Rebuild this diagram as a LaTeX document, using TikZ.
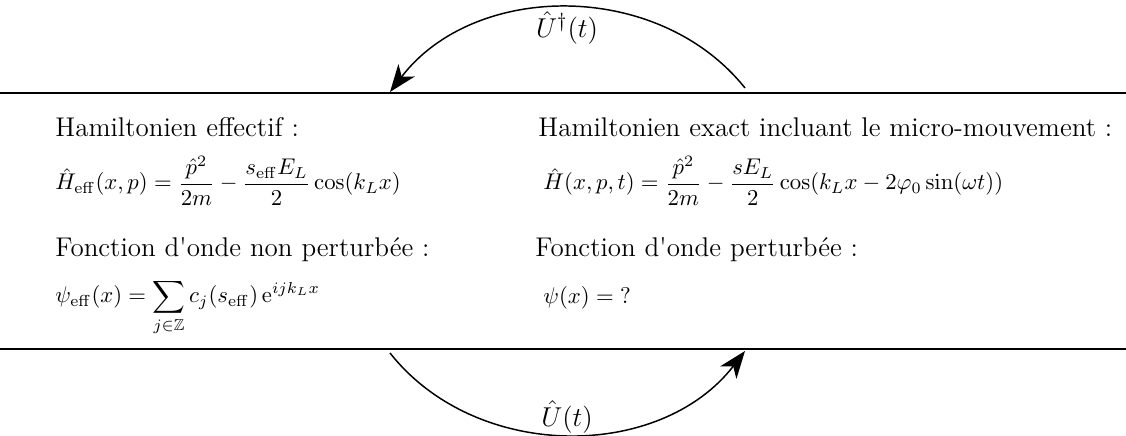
\documentclass[tikz,border=0pt]{standalone}
\IfFileExists{uplr8t.tfm}{%
    \usepackage[T1]{fontenc}%
    \renewcommand{\rmdefault}{ppl}%
}{}
\usepackage{amsmath}
\usepackage{amssymb}
\usetikzlibrary{
    arrows.meta,
    positioning
}

\begin{document}
\begin{tikzpicture}[
    x=0.44pt,
    y=-0.44pt,
%
    txt/.style={
        anchor=base west,
        inner sep=0pt,
        font=\fontsize{11.9}{14}\selectfont
    },
%
    eqn/.style={
        anchor=base west,
        inner sep=0pt,
        font=\normalsize
    },
%
    rule/.style={
        line width=0.9pt
    },
%
    flow/.style={
        -{Stealth[length=12pt,width=9pt,inset=3.5pt]},
        line width=0.65pt
    },
%
    oplabel/.style={
        inner sep=0pt,
        font=\fontsize{12.8}{15}\selectfont
    }
]
\useasboundingbox (0,0) rectangle (1126,436);
%
% Separating rules
%
\draw[rule] (0,93) -- (1126,93);
\draw[rule] (0,349) -- (1126,349);
%
% Left column: effective picture
%
\node[txt] (hefftitle) at (55,137) {Hamiltonien effectif :};
%
\node[eqn] (heff) at (55,190) {
    $\displaystyle \hat{H}_{\mathrm{eff}}(x,p)
    = \frac{\hat{p}^2}{2m}
    - \frac{s_{\mathrm{eff}}E_L}{2}\cos(k_L x)$
};
%
\node[txt] (psiefftitle) at (55,257) {Fonction d\textquotesingle onde non perturbée :};
%
\node[eqn] (psieff) at (55,303) {
    $\displaystyle \psi_{\mathrm{eff}}(x)
    = \sum_{j\in\mathbb{Z}} c_j(s_{\mathrm{eff}})\,\mathrm{e}^{ijk_Lx}$
};
%
% Right column: exact picture
%
\node[txt] (htitle) at (538,137) {Hamiltonien exact incluant le micro-mouvement :};
%
\node[eqn] (hexact) at (543,190) {
    $\displaystyle \hat{H}(x,p,t)
    = \frac{\hat{p}^2}{2m}
    - \frac{sE_L}{2}\cos(k_L x - 2\varphi_0\sin(\omega t))$
};
%
\node[txt] (psititle) at (535,257) {Fonction d\textquotesingle onde perturbée :};
%
\node[eqn] (psi) at (543,304) {$\psi(x) = {?}$};
%
% Transformations between the two pictures
%
\coordinate (topfrom) at (745,88);
\coordinate (topto) at (390,92);
\coordinate (botfrom) at (390,353);
\coordinate (botto) at (745,351);
%
\draw[flow] (topfrom) to[bend right=52] (topto);
\draw[flow] (botfrom) to[bend right=52] (botto);
%
\node[oplabel] (udag) at (567,28) {$\hat{U}^{\dagger}(t)$};
\node[oplabel] (uop) at (567,417) {$\hat{U}(t)$};
%
\end{tikzpicture}
\end{document}
